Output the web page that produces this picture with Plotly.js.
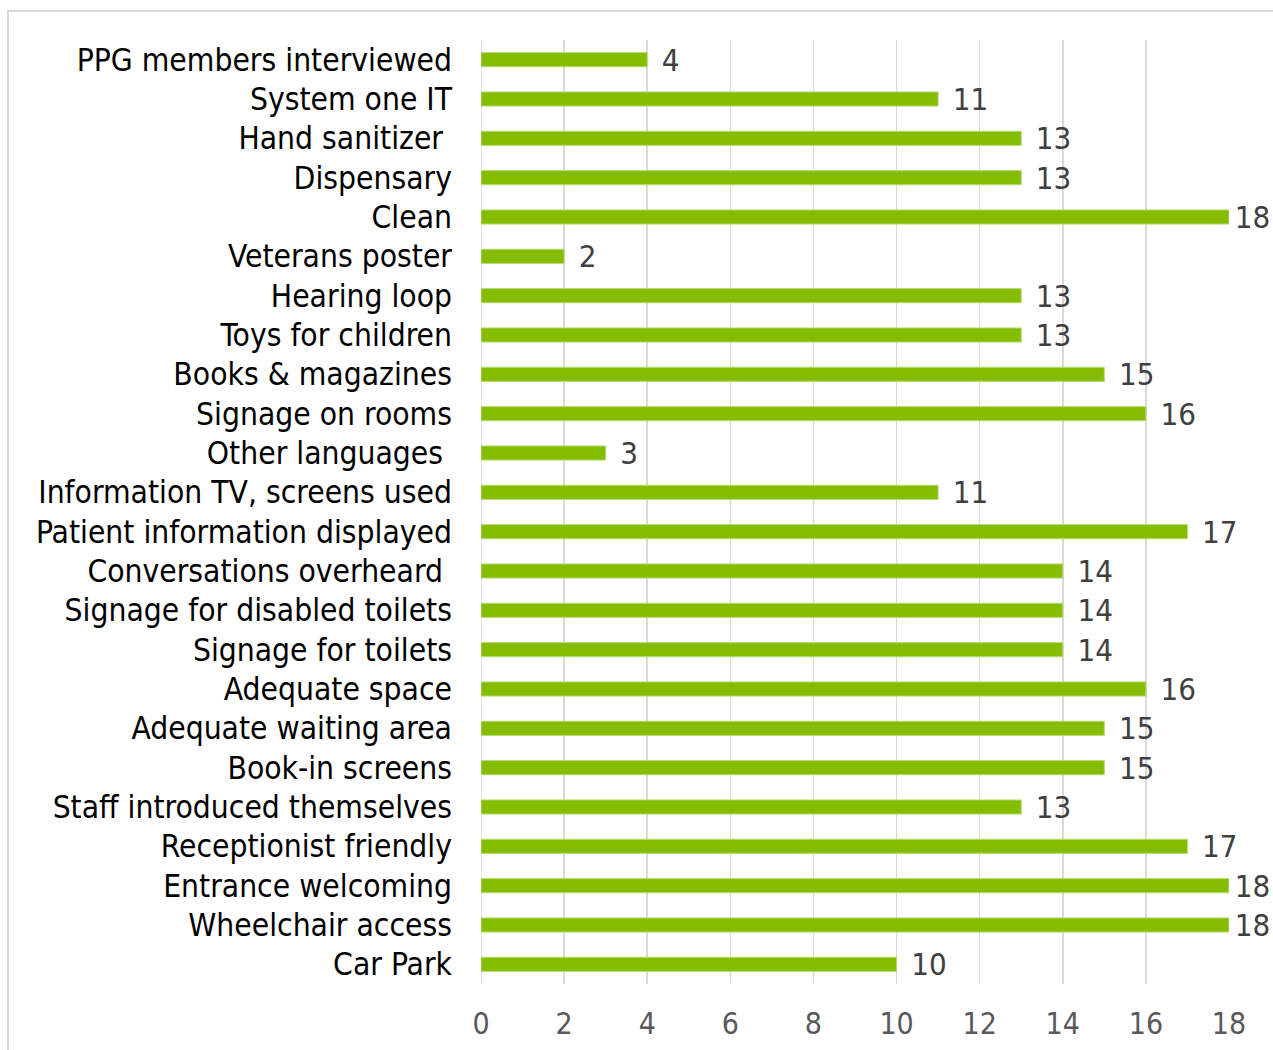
<!DOCTYPE html>
<html>
<head>
<meta charset="utf-8">
<script src="https://cdn.plot.ly/plotly-3.0.1.min.js"></script>
<style>html,body{margin:0;padding:0;background:#fff;}#chart{width:1273px;height:1050px;}</style>
</head>
<body>
<div id="chart"></div>
<script>
const categories = [
  "PPG members interviewed",
  "System one IT",
  "Hand sanitizer\u00A0",
  "Dispensary",
  "Clean",
  "Veterans poster",
  "Hearing loop",
  "Toys for children",
  "Books & magazines",
  "Signage on rooms",
  "Other languages\u00A0",
  "Information TV, screens used",
  "Patient information displayed",
  "Conversations overheard\u00A0",
  "Signage for disabled toilets",
  "Signage for toilets",
  "Adequate space",
  "Adequate waiting area",
  "Book-in screens",
  "Staff introduced themselves",
  "Receptionist friendly",
  "Entrance welcoming",
  "Wheelchair access",
  "Car Park"
];
const counts = [4, 11, 13, 13, 18, 2, 13, 13, 15, 16, 3, 11, 17, 14, 14, 14, 16, 15, 15, 13, 17, 18, 18, 10];
const xTicks = [0, 2, 4, 6, 8, 10, 12, 14, 16, 18];
const axisMax = 18;

const FONT = "DejaVu Sans Condensed, DejaVu Sans, sans-serif";

const trace = {
  type: "bar",
  orientation: "h",
  x: counts,
  y: categories,
  marker: { color: "#84BD00", line: { color: "#B9DA73", width: 1 } },
  text: counts.map(String),
  texttemplate: counts.map(v => v >= axisMax ? "\u200A%{text}" : "\u00A0\u200A%{text}"),
  textposition: "outside",
  cliponaxis: false,
  constraintext: "none",
  textfont: { family: FONT, size: 31, color: "#404040" },
  hoverinfo: "none"
};

const layout = {
  width: 1273,
  height: 1050,
  margin: { l: 481, r: 44, t: 40, b: 66, pad: 0 },
  paper_bgcolor: "#ffffff",
  plot_bgcolor: "#ffffff",
  showlegend: false,
  bargap: 0.64,
  xaxis: {
    range: [0, axisMax],
    tickvals: xTicks,
    ticktext: xTicks.map(String),
    showgrid: true,
    gridcolor: "#D9D9D9",
    gridwidth: 1.5,
    zeroline: false,
    showline: false,
    ticks: "",
    ticklabelstandoff: 19,
    tickfont: { family: FONT, size: 30, color: "#595959" },
    fixedrange: true
  },
  yaxis: {
    type: "category",
    autorange: "reversed",
    showgrid: false,
    zeroline: false,
    showline: false,
    ticks: "",
    ticklabelstandoff: 28,
    tickfont: { family: FONT, size: 31.5, color: "#000000" },
    fixedrange: true
  },
  shapes: [
    { type: "line", xref: "x", yref: "paper", x0: 0, x1: 0, y0: 0, y1: 1,
      line: { color: "#D9D9D9", width: 1.5 }, layer: "below" },
    { type: "rect", xref: "paper", yref: "paper",
      x0: (8 - 481) / 748, x1: 1.2, y0: -0.2, y1: (984 - 11) / 944,
      line: { color: "#D9D9D9", width: 2 }, fillcolor: "rgba(0,0,0,0)", layer: "above" }
  ]
};

Plotly.newPlot("chart", [trace], layout, { staticPlot: true, displayModeBar: false });
</script>
</body>
</html>
